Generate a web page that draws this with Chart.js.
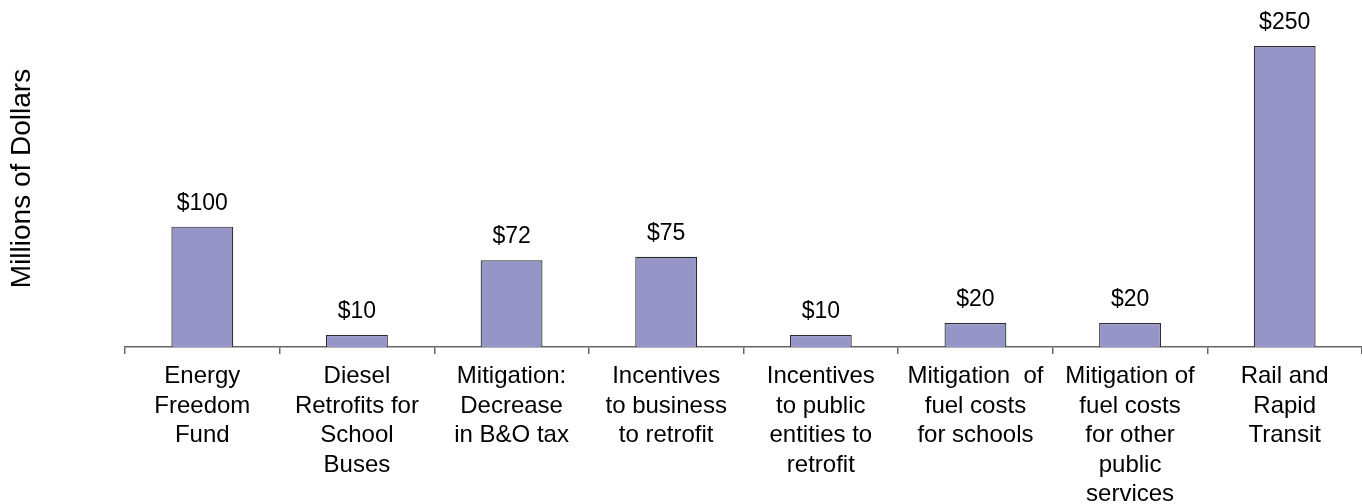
<!DOCTYPE html>
<html>
<head>
<meta charset="utf-8">
<script src="https://cdn.jsdelivr.net/npm/chart.js@4"></script>
<style>
  html, body { margin: 0; padding: 0; background: #fff; }
  #wrap { width: 1362px; height: 504px; }
</style>
</head>
<body>
<div id="wrap"><canvas id="myChartFunds" width="1362" height="504"></canvas></div>
<script>
const categories = [
    ['Energy', 'Freedom', 'Fund'],
    ['Diesel', 'Retrofits for', 'School', 'Buses'],
    ['Mitigation:', 'Decrease', 'in B&O tax'],
    ['Incentives', 'to business', 'to retrofit'],
    ['Incentives', 'to public', 'entities to', 'retrofit'],
    ['Mitigation  of', 'fuel costs', 'for schools'],
    ['Mitigation of', 'fuel costs', 'for other', 'public', 'services'],
    ['Rail and', 'Rapid', 'Transit']
];
const funding = [100, 10, 72, 75, 10, 20, 20, 250];
const yTitle = 'Millions of Dollars';

const FONT = "'Liberation Sans', Arial, sans-serif";

// dollar figure over each bar
const valueLabels = {
    id: 'valueLabels',
    afterDatasetsDraw(chart) {
        const ctx = chart.ctx;
        const meta = chart.getDatasetMeta(0);
        ctx.save();
        ctx.font = '23px ' + FONT;
        ctx.fillStyle = '#000';
        ctx.textAlign = 'center';
        ctx.textBaseline = 'alphabetic';
        meta.data.forEach((bar, i) => {
            ctx.fillText('$' + funding[i], bar.x, bar.y - 17);
        });
        ctx.restore();
    }
};

const ctx = document.getElementById('myChartFunds').getContext('2d');
const chart = new Chart(ctx, {
    type: 'bar',
    data: {
        labels: categories,
        datasets: [{
            data: funding,
            backgroundColor: '#9595C8',
            borderColor: '#2b2b2b',
            borderWidth: 1.2,
            categoryPercentage: 1,
            barPercentage: 0.4
        }]
    },
    options: {
        responsive: false,
        animation: false,
        layout: { padding: { left: 5, top: 10, right: 0, bottom: 0 } },
        plugins: {
            legend: { display: false },
            tooltip: { enabled: false }
        },
        scales: {
            x: {
                offset: true,
                grid: {
                    offset: true,
                    drawOnChartArea: false,
                    drawTicks: true,
                    tickLength: 7,
                    color: '#666',
                    lineWidth: 1.5
                },
                border: { display: true, color: '#666', width: 1.5 },
                ticks: {
                    autoSkip: false,
                    maxRotation: 0,
                    minRotation: 0,
                    padding: 8,
                    color: '#000',
                    font: { family: FONT, size: 24, lineHeight: 1.23 }
                },
                afterFit(scale) { scale.height = 157; }
            },
            y: {
                min: 0,
                max: 280,
                grid: { display: false },
                border: { display: false },
                ticks: { display: false },
                title: {
                    display: true,
                    text: yTitle,
                    color: '#000',
                    padding: 0,
                    font: { family: FONT, size: 28 }
                },
                afterFit(scale) { scale.width = 120; }
            }
        }
    },
    plugins: [valueLabels]
});
</script>
</body>
</html>
